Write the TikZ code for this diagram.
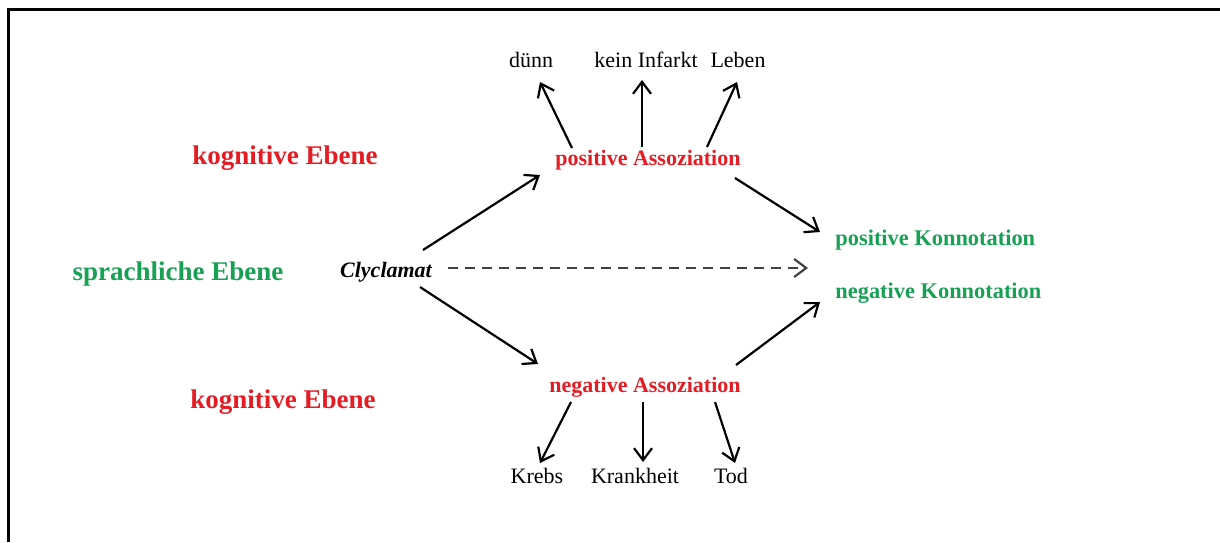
\documentclass[tikz,border=0pt]{standalone}
\usepackage{fontspec}
\setmainfont{Liberation Serif}
\usetikzlibrary{arrows.meta}

\definecolor{ebenered}{RGB}{228,28,36}
\definecolor{ebenegreen}{RGB}{24,160,84}

\tikzset{
  txt/.style={anchor=base,inner sep=2pt,font=\fontsize{11}{13}\selectfont},
  level/.style={anchor=base,inner sep=2pt,font=\fontsize{13.5}{16}\selectfont\bfseries},
  assoc/.style={txt,font=\fontsize{11}{13}\selectfont\bfseries,text=ebenered},
  konno/.style={txt,anchor=base west,inner sep=0pt,font=\fontsize{11.2}{13}\selectfont\bfseries,text=ebenegreen},
  arr/.style={line width=1.1pt,-{Straight Barb[length=6pt,width=9pt,line width=1.1pt]}},
  dasharr/.style={arr,draw=black!75,dash pattern=on 5pt off 3.5pt}
}

\begin{document}
\begin{tikzpicture}[x=0.5pt,y=-0.5pt]

    % Page size and frame (top and left edge only)
    \useasboundingbox (0,0) rectangle (1220,542);
    \draw[line width=1.5pt] (8,542) -- (8,9) -- (1220,9);

    % Levels on the left
    \node[level,text=ebenered] (kogtop) at (285,164) {kognitive Ebene};
    \node[level,text=ebenegreen] (sprach) at (178,280) {sprachliche Ebene};
    \node[level,text=ebenered] (kogbot) at (283,408) {kognitive Ebene};

    % The word and its associations
    \node[txt,font=\fontsize{11}{13}\selectfont\bfseries\itshape] (clyc) at (386,277) {Clyclamat};
    \node[assoc] (posA) at (648,165) {positive Assoziation};
    \node[assoc] (negA) at (645,392) {negative Assoziation};

    % Connotations on the right
    \node[konno] (posK) at (835,245) {positive Konnotation};
    \node[konno] (negK) at (835,298) {negative Konnotation};

    % Words above and below
    \node[txt] (dunn) at (531,67) {dünn};
    \node[txt] (kein) at (646,67) {kein Infarkt};
    \node[txt] (leben) at (738,67) {Leben};
    \node[txt] (krebs) at (537,483) {Krebs};
    \node[txt] (krank) at (635,483) {Krankheit};
    \node[txt] (tod) at (731,483) {Tod};

    % From the word to the associations
    \draw[arr] ([shift={(37,-27)}]clyc.base) -- ([shift={(-108,10)}]posA.base);
    \draw[arr] ([shift={(34,10)}]clyc.base) -- ([shift={(-107,-28)}]negA.base);
    \draw[dasharr] ([shift={(62,-9)}]clyc.base) -- ([shift={(-27,23)}]posK.base west);

    % From the associations to the connotations
    \draw[arr] ([shift={(87,13)}]posA.base) -- ([shift={(-15,-13)}]posK.base west);
    \draw[arr] ([shift={(91,-27)}]negA.base) -- ([shift={(-15,4)}]negK.base west);

    % Fan up
    \draw[arr] ([shift={(-76,-17)}]posA.base) -- ([shift={(9,15)}]dunn.base);
    \draw[arr] ([shift={(-6,-18)}]posA.base) -- ([shift={(-4,13)}]kein.base);
    \draw[arr] ([shift={(59,-18)}]posA.base) -- ([shift={(-1,15)}]leben.base);

    % Fan down
    \draw[arr] ([shift={(-74,10)}]negA.base) -- ([shift={(3,-20)}]krebs.base);
    \draw[arr] ([shift={(-2,10)}]negA.base) -- ([shift={(8,-21)}]krank.base);
    \draw[arr] ([shift={(70,10)}]negA.base) -- ([shift={(4,-20)}]tod.base);

\end{tikzpicture}
\end{document}
